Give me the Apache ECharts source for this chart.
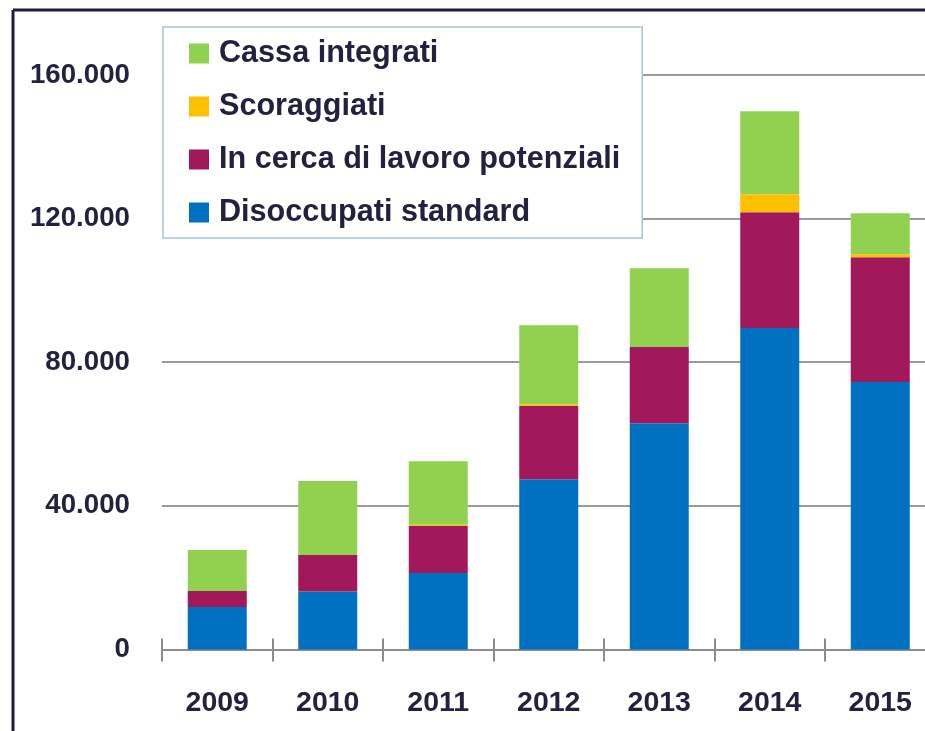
<!DOCTYPE html>
<html>
<head>
<meta charset="utf-8">
<script src="https://cdn.jsdelivr.net/npm/echarts@6/dist/echarts.min.js"></script>
<style>
  html, body { margin: 0; padding: 0; background: #fff; overflow: hidden; }
  /* a bit wider than the window: the last category runs past the right edge */
  #chart { width: 940px; height: 731px; }
</style>
</head>
<body>
<div id="chart"></div>
<script>
var years = ['2009', '2010', '2011', '2012', '2013', '2014', '2015'];
var yTicks = [0, 40000, 80000, 120000, 160000];

// values
var disoccupati = [11800, 16100, 21300, 47400, 63000, 89500, 74500];
var inCerca = [4500, 10200, 13100, 20400, 21200, 32300, 34700];
var scoraggiati = [0, 0, 300, 500, 0, 5000, 900];
var cassa = [11400, 20600, 17700, 22000, 22000, 23100, 11400];

var seriesNames = ['Disoccupati standard', 'In cerca di lavoro potenziali', 'Scoraggiati', 'Cassa integrati'];
var seriesData = [disoccupati, inCerca, scoraggiati, cassa];
var seriesColors = ['#0070c0', '#a2195b', '#ffc000', '#92d050'];

var textColor = '#22223f';

var chart = echarts.init(document.getElementById('chart'));

chart.setOption({
    animation: false,
    color: seriesColors,
    grid: {
        left: 162,
        top: 75,
        width: 773.5,
        height: 574.4,
        containLabel: false
    },
    legend: {
        data: ['Cassa integrati', 'Scoraggiati', 'In cerca di lavoro potenziali', 'Disoccupati standard'],
        orient: 'vertical',
        left: 163,
        top: 27,
        padding: [10, 22, 9, 26],
        itemWidth: 20,
        itemHeight: 20,
        itemGap: 20,
        icon: 'rect',
        backgroundColor: '#fff',
        borderColor: '#a9c3dc',
        borderWidth: 1.5,
        borderRadius: 0,
        textStyle: {
            fontFamily: 'Liberation Sans',
            fontWeight: 'bold',
            fontSize: 30.6,
            lineHeight: 33,
            color: textColor,
            padding: [0, 0, 0, 5]
        }
    },
    xAxis: [{
        type: 'category',
        data: years,
        axisLine: { lineStyle: { color: '#8c8c8c', width: 2 } },
        axisTick: { show: true, length: 12, lineStyle: { color: '#8c8c8c', width: 2 } },
        axisLabel: {
            margin: 39,
            fontFamily: 'Liberation Sans',
            fontWeight: 'bold',
            fontSize: 28.5,
            color: textColor
        }
    }, {
        // second axis only to draw the upper half of the crossing ticks
        type: 'category',
        data: years,
        position: 'bottom',
        axisLine: { show: false },
        axisTick: { show: true, inside: true, length: 11, lineStyle: { color: '#8c8c8c', width: 2 } },
        axisLabel: { show: false }
    }],
    yAxis: {
        type: 'value',
        min: yTicks[0],
        max: yTicks[yTicks.length - 1],
        interval: yTicks[1] - yTicks[0],
        axisLine: { show: false },
        axisTick: { show: false },
        splitLine: { lineStyle: { color: '#9a9a9a', width: 2 } },
        axisLabel: {
            margin: 32,
            fontFamily: 'Liberation Sans',
            fontWeight: 'bold',
            fontSize: 27.7,
            color: textColor,
            formatter: function (v) {
                return v === 0 ? '0' : (v / 1000).toFixed(0) + '.000';
            }
        }
    },
    series: seriesNames.map(function (name, i) {
        return {
            name: name,
            type: 'bar',
            stack: 'tot',
            xAxisIndex: 0,
            barWidth: 59,
            data: seriesData[i],
            itemStyle: { color: seriesColors[i] }
        };
    }),
    graphic: [
        {
            type: 'line',
            shape: { x1: 13, y1: 10, x2: 13, y2: 731 },
            style: { stroke: '#1e1e3c', lineWidth: 3 }
        },
        {
            type: 'line',
            shape: { x1: 13, y1: 10, x2: 940, y2: 10 },
            style: { stroke: '#1e1e3c', lineWidth: 3 }
        }
    ]
});
</script>
</body>
</html>
